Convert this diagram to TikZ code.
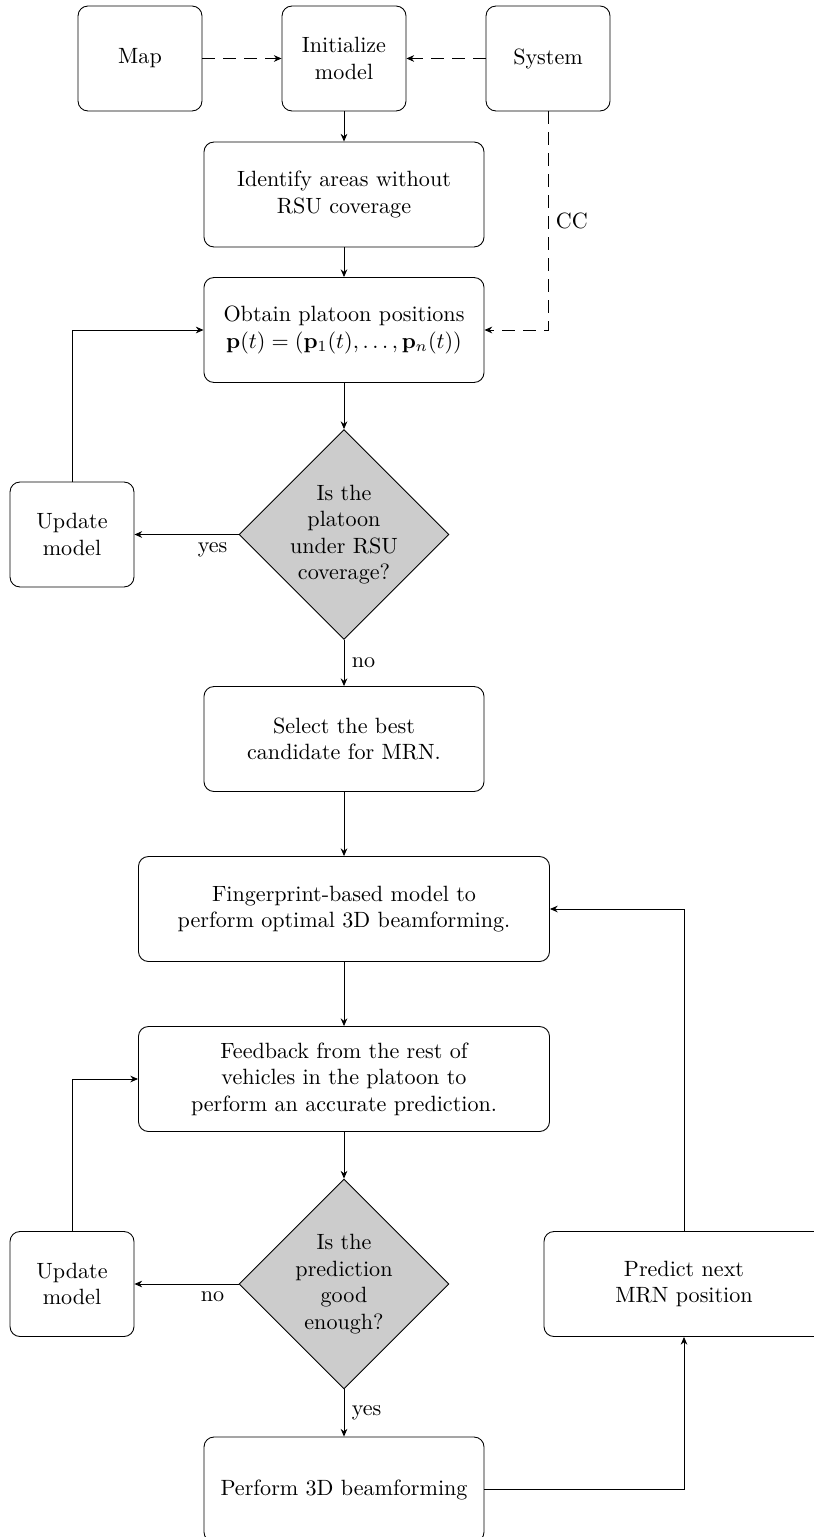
\documentclass[tikz,border=0pt]{standalone}
\usetikzlibrary{shapes.geometric,arrows.meta}
\begin{document}
\begin{tikzpicture}[x=0.4525pt,y=-0.4525pt,
  box/.style={draw,rounded corners=4.5pt,align=center,inner sep=0pt,minimum height=47.5pt},
  smallbox/.style={box,minimum width=56.1pt},
  midbox/.style={box,minimum width=126.7pt},
  widebox/.style={box,minimum width=186pt},
  decision/.style={draw,diamond,aspect=1,fill=gray!40,align=center,inner sep=0pt,
    minimum width=95pt,minimum height=95pt},
  flow/.style={-{Stealth[length=3.5pt,width=3pt]}},
  feed/.style={flow,dash pattern=on 5.5pt off 4pt},
]
\useasboundingbox (0,0) rectangle (813,1537);

% inputs
\node[smallbox] (map)  at (140,58.5) {Map};
\node[smallbox] (init) at (344,58.5) {Initialize\\model};
\node[smallbox] (sys)  at (548,58.5) {System};

% main chain
\node[midbox] (ident)  at (344,194.5) {Identify areas without\\RSU coverage};
\node[midbox] (obtain) at (344,330) {Obtain platoon positions\\$\mathbf{p}(t)=(\mathbf{p}_1(t),\ldots,\mathbf{p}_n(t))$};
\node[decision] (cov)  at (344,534.5) {Is the\\platoon\\under RSU\\coverage?};
\node[smallbox] (upd1) at (72,534.5) {Update\\model};
\node[midbox] (select) at (344,739) {Select the best\\candidate for MRN.};
\node[widebox] (finger) at (344,909) {Fingerprint-based model to\\perform optimal 3D beamforming.};
\node[widebox] (feedback) at (344,1079) {Feedback from the rest of\\vehicles in the platoon to\\perform an accurate prediction.};
\node[decision] (good) at (344,1284) {Is the\\prediction\\good\\enough?};
\node[smallbox] (upd2) at (72,1284) {Update\\model};
\node[midbox] (predict) at (684,1284) {Predict next\\MRN position};
\node[midbox] (perform) at (344,1489.5) {Perform 3D beamforming};

% connectors
\draw[feed] (map) -- (init);
\draw[feed] (sys) -- (init);
\draw[feed] (sys.south) |- node[pos=0.25,right] {CC} (obtain.east);
\draw[flow] (init) -- (ident);
\draw[flow] (ident) -- (obtain);
\draw[flow] (obtain) -- (cov);
\draw[flow] (cov) -- node[near start,below] {yes} (upd1);
\draw[flow] (upd1.north) |- (obtain.west);
\draw[flow] (cov) -- node[midway,right] {no} (select);
\draw[flow] (select) -- (finger);
\draw[flow] (finger) -- (feedback);
\draw[flow] (feedback) -- (good);
\draw[flow] (good) -- node[near start,below] {no} (upd2);
\draw[flow] (upd2.north) |- (feedback.west);
\draw[flow] (good) -- node[midway,right] {yes} (perform);
\draw[flow] (perform.east) -| (predict.south);
\draw[flow] (predict.north) |- (finger.east);
\end{tikzpicture}
\end{document}
